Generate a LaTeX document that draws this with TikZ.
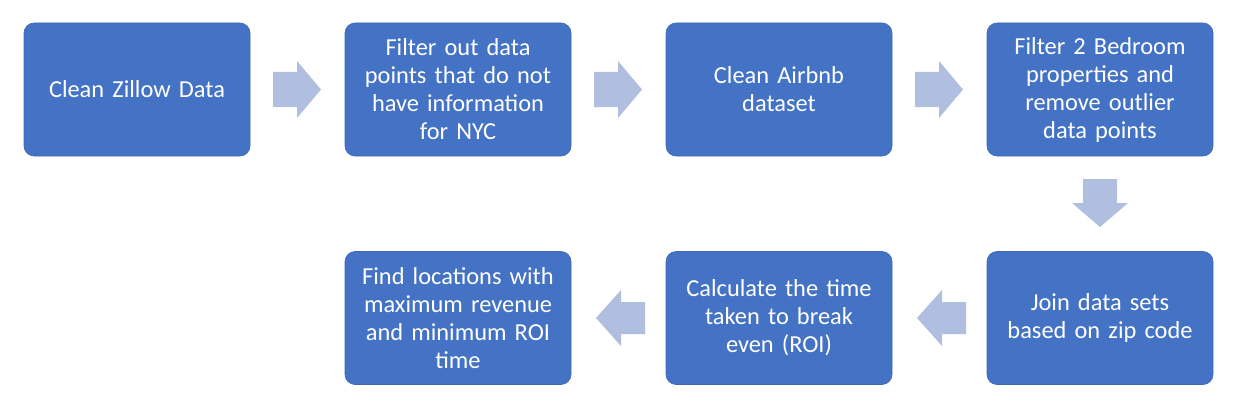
\documentclass[tikz,border=0pt]{standalone}
\usepackage{fontspec}
\setmainfont{Carlito}
\definecolor{boxblue}{HTML}{4472C4}
\definecolor{boxedge}{HTML}{3F68B4}
\definecolor{arrowfill}{HTML}{B0BEE0}
\begin{document}
\begin{tikzpicture}[x=1pt,y=-1pt,
  stepbox/.style={draw=boxedge,line width=0.6pt,fill=boxblue,rounded corners=10pt,
    minimum width=226pt,minimum height=133pt,text width=215pt,align=center,
    text=white,font=\fontsize{24.4}{28}\selectfont,inner sep=0pt},
  blockarrow/.style={fill=arrowfill,draw=none}]
\useasboundingbox (0,0) rectangle (1240,412);
\node[stepbox] (b1) at (137,89.5) {Clean Zillow Data};
\node[stepbox] (b2) at (458,89.5) {Filter out data\\points that do not\\have information\\for NYC};
\node[stepbox] (b3) at (779,89.5) {Clean Airbnb\\dataset};
\node[stepbox] (b4) at (1100,89.5) {Filter 2 Bedroom\\properties and\\remove outlier\\data points};
\node[stepbox] (b5) at (1100,318) {Join data sets\\based on zip code};
\node[stepbox] (b6) at (779,318) {Calculate the time\\taken to break\\even (ROI)};
\node[stepbox] (b7) at (458,318) {Find locations with\\maximum revenue\\and minimum ROI\\time};
% right arrows
\foreach \a/\x in {1/273,2/594,3/915}{
  \fill[blockarrow] (\x,72) -- ++(24,0) -- ++(0,-11) -- ++(24,28.5) -- ++(-24,28.5) -- ++(0,-11) -- ++(-24,0) -- cycle;
}
% down arrow
\fill[blockarrow] (1083,179) -- (1117,179) -- (1117,203) -- (1128,203) -- (1100,227) -- (1072,203) -- (1083,203) -- cycle;
% left arrows
\foreach \x in {645,966}{
  \fill[blockarrow] (\x,302) -- ++(-24,0) -- ++(0,-12) -- ++(-25,28) -- ++(25,28) -- ++(0,-12) -- ++(24,0) -- cycle;
}
\end{tikzpicture}
\end{document}
